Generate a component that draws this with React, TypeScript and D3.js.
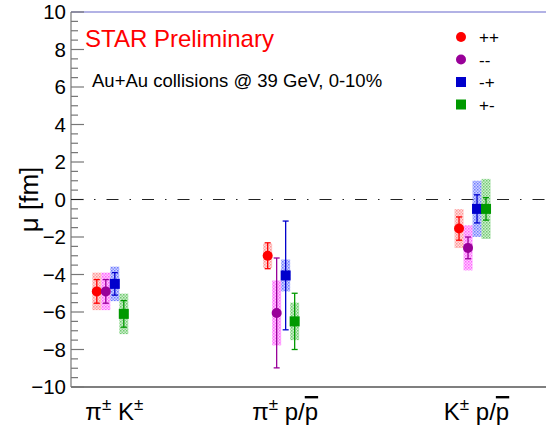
import React from "react";
import * as d3 from "d3";

const width = 546;
const height = 428;

// categories and their x position on the original ROOT axis
const categories = ["pi K", "pi p", "K p"];
const categoryX = [1, 2, 3.12];

const seriesNames = ["++", "--", "-+", "+-"];

// mu [fm] values per series, one per category
const muPP = [-4.9, -3.0, -1.55];
const muMM = [-4.9, -6.05, -2.58];
const muMP = [-4.5, -4.05, -0.5];
const muPM = [-6.1, -6.5, -0.5];

// statistical errors
const statPP = [0.63, 0.69, 0.62];
const statMM = [0.63, 2.93, 0.58];
const statMP = [0.6, 2.9, 0.75];
const statPM = [0.71, 1.5, 0.6];

// systematic errors
const sysPP = [1.0, 0.65, 1.04];
const sysMM = [1.0, 1.73, 1.2];
const sysMP = [0.92, 0.85, 1.5];
const sysPM = [1.08, 1.0, 1.6];

const yTicks = [-10, -8, -6, -4, -2, 0, 2, 4, 6, 8, 10];

const seriesStyle = [
  { color: "#ff0000", box: "#ff7777", shape: "circle" },
  { color: "#990099", box: "#ff33ff", shape: "circle" },
  { color: "#0000cc", box: "#4455ff", shape: "square" },
  { color: "#009900", box: "#44bb44", shape: "square" },
];

const series = seriesNames.map((name, i) => ({
  name,
  mu: [muPP, muMM, muMP, muPM][i],
  stat: [statPP, statMM, statMP, statPM][i],
  sys: [sysPP, sysMM, sysMP, sysPM][i],
  ...seriesStyle[i],
}));

const left = 71;
const right = 546;
const top = 12;
const bottom = 387;

const font = "'Liberation Sans', Arial, Helvetica, sans-serif";

const x = d3.scaleLinear().domain([0.77, 3.55]).range([left, right]);
const y = d3.scaleLinear().domain([-10, 10]).range([bottom, top]);
const dodge = d3.scalePoint<string>().domain(seriesNames).range([-13.5, 13.5]);

const minorTicks = d3.range(-10, 10.01, 0.5).filter(v => Math.abs(v % 2) > 0.01);

const Marker = ({ cx, cy, shape, color, size = 10 }: any) =>
  shape === "circle"
    ? <circle cx={cx} cy={cy} r={size / 2} fill={color} />
    : <rect x={cx - size / 2} y={cy - size / 2} width={size} height={size} fill={color} />;

export default function App() {
  const boxW = 9;
  const cap = 3;
  return (
    <svg width={width} height={height} style={{ position: "absolute", left: 0, top: 0, background: "#fff" }}
      fontFamily={font}>
      <defs>
        {series.map((s, i) => (
          <pattern key={i} id={`hatch${i}`} width={3} height={3} patternUnits="userSpaceOnUse">
            <rect width={3} height={3} fill={s.box} opacity={0.25} />
            <rect width={1.5} height={1.5} fill={s.box} opacity={0.7} />
            <rect x={1.5} y={1.5} width={1.5} height={1.5} fill={s.box} opacity={0.5} />
          </pattern>
        ))}
      </defs>

      {/* frame */}
      <line x1={left} x2={right} y1={top} y2={top} stroke="#6666cc" strokeWidth={1.2} />
      <line x1={left} x2={right} y1={bottom} y2={bottom} stroke="#000" strokeWidth={1.2} />
      <line x1={left} x2={left} y1={top} y2={bottom} stroke="#777" strokeWidth={1.2} />

      {/* y ticks */}
      {yTicks.map(t => (
        <g key={t}>
          <line x1={left} x2={left + 13} y1={y(t)} y2={y(t)} stroke="#777" strokeWidth={1.2} />
          <text x={66} y={y(t)} dy="0.36em" textAnchor="end" fontSize={20.5} fill="#000">
            {t < 0 ? `\u2212${-t}` : t}
          </text>
        </g>
      ))}
      {minorTicks.map(t => (
        <line key={t} x1={left} x2={left + 7} y1={y(t)} y2={y(t)} stroke="#777" strokeWidth={1.2} />
      ))}

      {/* zero line */}
      <line x1={left} x2={right} y1={y(0)} y2={y(0)} stroke="#222" strokeWidth={1.1}
        strokeDasharray="12 11 1.5 11" />

      {/* y label */}
      <text transform={`translate(38,${y(0)}) rotate(-90)`} textAnchor="middle" fontSize={26}>
        μ [fm]
      </text>

      {/* titles */}
      <text x={85} y={47} fontSize={24} fill="#ff0000">STAR Preliminary</text>
      <text x={92} y={87} fontSize={18.5} fill="#000">Au+Au collisions @ 39 GeV, 0-10%</text>

      {/* systematic boxes */}
      {series.map((s, i) =>
        categoryX.map((cx, j) => {
          const px = x(cx) + (dodge(s.name) ?? 0);
          return (
            <rect key={`b${i}${j}`} x={px - boxW / 2} width={boxW}
              y={y(s.mu[j] + s.sys[j])} height={y(s.mu[j] - s.sys[j]) - y(s.mu[j] + s.sys[j])}
              fill={`url(#hatch${i})`} />
          );
        })
      )}

      {/* statistical errors */}
      {series.map((s, i) =>
        categoryX.map((cx, j) => {
          const px = x(cx) + (dodge(s.name) ?? 0);
          const hi = y(s.mu[j] + s.stat[j]);
          const lo = y(s.mu[j] - s.stat[j]);
          return (
            <g key={`e${i}${j}`} stroke={s.color} strokeWidth={1.3}>
              <line x1={px} x2={px} y1={hi} y2={lo} />
              <line x1={px - cap} x2={px + cap} y1={hi} y2={hi} />
              <line x1={px - cap} x2={px + cap} y1={lo} y2={lo} />
            </g>
          );
        })
      )}

      {/* markers */}
      {series.map((s, i) =>
        categoryX.map((cx, j) => (
          <Marker key={`m${i}${j}`} cx={x(cx) + (dodge(s.name) ?? 0)} cy={y(s.mu[j])}
            shape={s.shape} color={s.color} />
        ))
      )}

      {/* legend */}
      {series.map((s, i) => (
        <g key={`l${i}`} transform={`translate(461,${37 + i * 22.5})`}>
          <Marker cx={0} cy={0} shape={s.shape} color={s.color} />
          <text x={18} y={0} dy="0.36em" fontSize={17} fill="#000">{s.name}</text>
        </g>
      ))}

      {/* category labels */}
      {categories.map((c, j) => (
        <text key={c} x={x(categoryX[j]) + 4} y={420} textAnchor="middle" fontSize={24} fill="#000">
          {j === 0 && (<>π<tspan fontSize={17} dy={-10}>±</tspan><tspan dy={10}> K</tspan><tspan fontSize={17} dy={-10}>±</tspan></>)}
          {j === 1 && (<>π<tspan fontSize={17} dy={-10}>±</tspan><tspan dy={10}> p/</tspan><tspan style={{ textDecoration: "overline" }}>p</tspan></>)}
          {j === 2 && (<>K<tspan fontSize={17} dy={-10}>±</tspan><tspan dy={10}> p/</tspan><tspan style={{ textDecoration: "overline" }}>p</tspan></>)}
        </text>
      ))}
    </svg>
  );
}
